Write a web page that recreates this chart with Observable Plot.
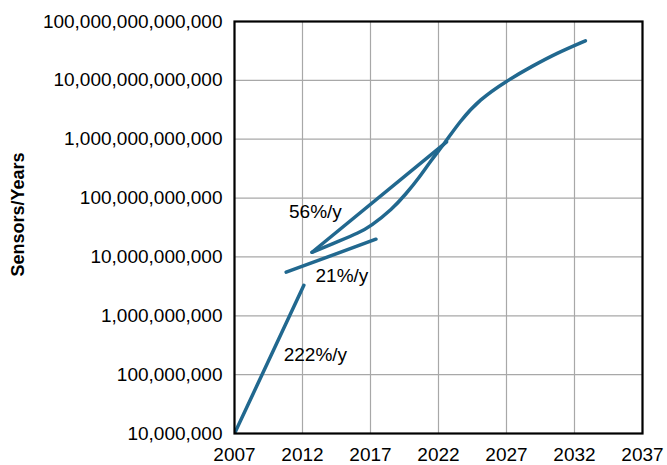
<!DOCTYPE html>
<html>
<head>
<meta charset="utf-8">
<script src="https://cdn.jsdelivr.net/npm/d3@7"></script>
<script src="https://cdn.jsdelivr.net/npm/@observablehq/plot@0.6"></script>
<style>
  html, body { margin: 0; padding: 0; background: #fff; }
</style>
</head>
<body>
<div id="chart"></div>
<script>
// Tick values
const xTicks = [2007, 2012, 2017, 2022, 2027, 2032, 2037];
const yTicks = [1e7, 1e8, 1e9, 1e10, 1e11, 1e12, 1e13, 1e14];

// 222%/y segment
const years222 = [2007, 2012.1];
const values222 = [1e7, 3.3e9];

// 21%/y segment
const years21 = [2010.8, 2017.4];
const values21 = [5.5e9, 2.0e10];

// 56%/y segment
const years56 = [2012.7, 2022.6];
const values56 = [1.2e10, 9.0e11];

// S-curve
const yearsS = [2012.7, 2014.8, 2016.13, 2017.0, 2018.6, 2019.6, 2020.6, 2021.46, 2022.45, 2023.56, 2025.0, 2027.0, 2029.0, 2030.7, 2032.8];
const valuesS = [1.2e10, 1.9e10, 2.57e10, 3.3e10, 6.5e10, 1.17e11, 2.26e11, 4.4e11, 8.5e11, 2.0e12, 4.7e12, 9.8e12, 1.8e13, 2.9e13, 4.7e13];

// Annotations
const labelText = ["56%/y", "21%/y", "222%/y"];
const labelYears = [2012.95, 2014.9, 2012.95];
const labelValues = [5.8e10, 4.8e9, 2.2e8];

const toRows = (xs, ys) => xs.map((x, i) => ({x, y: ys[i]}));
const seg222 = toRows(years222, values222);
const seg21 = toRows(years21, values21);
const seg56 = toRows(years56, values56);
const sCurve = toRows(yearsS, valuesS);
const labels = labelText.map((t, i) => ({t, x: labelYears[i], y: labelValues[i]}));

const lineColor = "#21688f";

const chart = Plot.plot({
  width: 667,
  height: 465,
  marginLeft: 234,
  marginRight: 25,
  marginTop: 21,
  marginBottom: 32,
  style: {fontSize: "19px", fontFamily: "'Liberation Sans', Arial, Helvetica, sans-serif", color: "#000", background: "#fff"},
  x: {domain: [2007, 2037]},
  y: {type: "log", domain: [1e7, 1e14]},
  marks: [
    Plot.gridX(xTicks, {stroke: "#a8a8a8", strokeOpacity: 1, strokeWidth: 1.2}),
    Plot.gridY(yTicks, {stroke: "#a8a8a8", strokeOpacity: 1, strokeWidth: 1.2}),
    Plot.axisX({ticks: xTicks, tickSize: 0, tickPadding: 14, tickFormat: d => String(d), label: null}),
    Plot.axisY({ticks: yTicks, tickSize: 0, tickPadding: 12, tickFormat: d3.format(",.0f"), label: null}),
    Plot.line(seg222, {x: "x", y: "y", stroke: lineColor, strokeWidth: 3.5, clip: true}),
    Plot.line(seg21, {x: "x", y: "y", stroke: lineColor, strokeWidth: 3.5}),
    Plot.line(seg56, {x: "x", y: "y", stroke: lineColor, strokeWidth: 3.5}),
    Plot.line(sCurve, {x: "x", y: "y", stroke: lineColor, strokeWidth: 3.5, curve: "basis"}),
    Plot.text(labels, {x: "x", y: "y", text: "t", fill: "#000", fontSize: 19, textAnchor: "middle", lineAnchor: "middle"}),
    Plot.frame({stroke: "#000", strokeWidth: 2.2}),
    Plot.text(["Sensors/Years"], {frameAnchor: "left", rotate: -90, dx: -216, dy: -13, fontWeight: "bold", fontSize: 18, fill: "#000", lineAnchor: "middle", textAnchor: "middle"})
  ]
});
document.getElementById("chart").appendChild(chart);
</script>
</body>
</html>
